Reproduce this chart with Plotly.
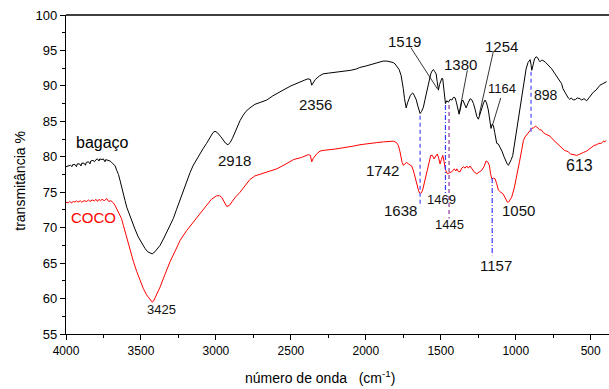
import plotly.graph_objects as go

# FTIR spectra: wavenumber (cm-1) and transmittance (%)
wn_bagaco = [4000, 3985, 3970, 3960, 3955, 3940, 3930, 3925, 3910, 3900, 3895, 3880, 3870, 3865, 3850,
             3840, 3835, 3820, 3810, 3800, 3790, 3780, 3775, 3760, 3751, 3740, 3735, 3720, 3706, 3695,
             3684, 3672, 3662, 3650, 3640, 3628, 3617, 3606, 3595, 3578, 3562, 3540, 3518, 3496, 3474,
             3455, 3440, 3425, 3407, 3390, 3373, 3350, 3328, 3306, 3284, 3262, 3240, 3218, 3195, 3172,
             3151, 3128, 3106, 3084, 3062, 3040, 3020, 3006, 2990, 2970, 2950, 2935, 2920, 2905, 2890,
             2870, 2855, 2839, 2820, 2800, 2773, 2740, 2700, 2661, 2620, 2590, 2552, 2500, 2460, 2439,
             2410, 2386, 2370, 2361, 2350, 2337, 2310, 2285, 2250, 2200, 2152, 2100, 2061, 2040, 2000,
             1952, 1920, 1885, 1860, 1840, 1818, 1805, 1790, 1778, 1765, 1758, 1750, 1742, 1735, 1731,
             1722, 1712, 1704, 1694, 1687, 1678, 1670, 1663, 1655, 1646, 1638, 1628, 1616, 1605, 1593,
             1580, 1567, 1558, 1549, 1540, 1531, 1524, 1516, 1508, 1500, 1492, 1487, 1480, 1474, 1469,
             1460, 1449, 1438, 1426, 1415, 1404, 1395, 1386, 1378, 1368, 1360, 1353, 1342, 1331, 1318,
             1304, 1292, 1282, 1270, 1260, 1249, 1238, 1227, 1215, 1205, 1195, 1183, 1175, 1165, 1157,
             1149, 1140, 1127, 1116, 1105, 1092, 1078, 1065, 1055, 1049, 1040, 1030, 1020, 1010, 1000,
             993, 975, 960, 945, 931, 918, 904, 898, 893, 885, 875, 865, 855, 845, 838,
             830, 820, 800, 783, 760, 738, 715, 694, 685, 672, 660, 650, 640, 630, 616,
             600, 590, 572, 560, 545, 527, 510, 495, 483, 465, 450, 438, 420, 405, 394]
t_bagaco = [78.6, 78.7, 78.8, 78.6, 78.9, 78.9, 78.6, 79.0, 79.0, 78.7, 79.1, 79.1, 78.8, 79.2, 79.3,
            79.0, 79.4, 79.5, 79.3, 79.6, 79.7, 79.4, 79.7, 79.6, 79.7, 79.3, 79.6, 79.5, 79.4, 79.2,
            79.0, 78.7, 78.1, 77.5, 76.7, 75.8, 74.8, 73.8, 72.9, 71.9, 71.0, 69.8, 68.7, 67.8, 67.1,
            66.6, 66.4, 66.3, 66.6, 67.0, 67.5, 68.4, 69.4, 70.3, 71.3, 72.6, 73.9, 75.3, 76.7, 77.8,
            78.8, 79.7, 80.5, 81.2, 81.9, 82.7, 83.4, 83.6, 83.4, 82.9, 82.3, 81.9, 81.7, 82.0, 82.6,
            83.6, 84.4, 85.1, 85.8, 86.4, 86.9, 87.4, 87.7, 88.0, 88.6, 89.0, 89.4, 90.0, 90.4, 90.6,
            90.8, 91.0, 90.9, 90.1, 90.5, 90.9, 91.4, 91.7, 91.8, 91.9, 92.0, 92.2, 92.4, 92.6, 92.8,
            93.1, 93.3, 93.5, 93.5, 93.4, 93.3, 93.1, 92.7, 92.3, 91.5, 90.8, 89.6, 88.2, 87.0, 86.9,
            87.6, 88.3, 88.6, 88.9, 89.0, 88.7, 88.3, 88.0, 87.3, 86.6, 86.1, 86.4, 87.0, 88.1, 89.4,
            90.6, 91.7, 92.1, 92.3, 92.0, 91.7, 90.6, 89.4, 90.2, 90.8, 91.1, 91.0, 89.5, 88.0, 87.5,
            87.9, 87.7, 88.1, 88.0, 88.4, 88.3, 87.6, 86.6, 86.0, 86.9, 87.8, 88.0, 87.4, 86.9, 87.6,
            88.2, 88.0, 87.5, 86.6, 85.7, 85.3, 86.0, 87.0, 87.6, 88.0, 87.6, 86.6, 85.3, 84.0, 84.6,
            84.4, 83.4, 81.9, 81.8, 81.4, 80.8, 80.0, 79.3, 78.9, 78.8, 79.1, 79.6, 80.2, 81.6, 83.2,
            84.2, 86.5, 88.4, 90.4, 92.4, 93.3, 93.7, 93.0, 92.2, 92.9, 93.8, 94.1, 94.0, 93.6, 93.4,
            93.6, 93.6, 93.3, 92.9, 92.4, 91.7, 91.0, 90.3, 89.6, 89.1, 88.6, 88.3, 88.1, 88.3, 88.0,
            88.1, 88.3, 88.2, 88.0, 88.2, 87.9, 88.4, 88.8, 89.1, 89.4, 89.8, 90.1, 90.3, 90.5, 90.6]

wn_coco = [4000, 3985, 3975, 3965, 3950, 3940, 3930, 3920, 3905, 3895, 3880, 3862, 3850, 3840, 3825,
           3810, 3800, 3790, 3780, 3770, 3760, 3745, 3728, 3715, 3700, 3690, 3684, 3672, 3660, 3644,
           3630, 3617, 3595, 3573, 3550, 3528, 3506, 3484, 3462, 3440, 3425, 3417, 3395, 3373, 3340,
           3306, 3272, 3239, 3195, 3151, 3106, 3062, 3030, 2995, 2975, 2962, 2945, 2928, 2912, 2895,
           2870, 2839, 2805, 2773, 2740, 2700, 2650, 2594, 2540, 2483, 2430, 2383, 2370, 2361, 2350,
           2328, 2306, 2284, 2200, 2128, 2084, 2039, 1980, 1927, 1883, 1845, 1816, 1795, 1783, 1773,
           1767, 1758, 1750, 1740, 1728, 1716, 1705, 1694, 1682, 1672, 1660, 1648, 1638, 1630, 1621,
           1608, 1594, 1580, 1567, 1556, 1545, 1534, 1523, 1514, 1505, 1496, 1487, 1478, 1468, 1456,
           1441, 1426, 1410, 1400, 1393, 1382, 1371, 1360, 1349, 1338, 1327, 1316, 1305, 1290, 1275,
           1260, 1244, 1227, 1212, 1198, 1188, 1176, 1168, 1160, 1150, 1138, 1127, 1116, 1100, 1086,
           1070, 1056, 1048, 1040, 1027, 1010, 993, 975, 960, 949, 938, 927, 915, 905, 893,
           880, 870, 860, 850, 840, 830, 816, 800, 785, 771, 760, 740, 720, 704, 690,
           675, 660, 650, 635, 620, 610, 594, 580, 565, 550, 527, 515, 504, 490, 478,
           460, 445, 430, 415, 405, 398]
t_coco = [73.6, 73.5, 73.7, 73.5, 73.7, 73.6, 73.8, 73.6, 73.8, 73.6, 73.8, 73.7, 73.9, 73.7, 73.9,
          73.8, 74.0, 73.7, 74.0, 73.8, 74.0, 73.8, 74.1, 73.7, 73.8, 73.6, 73.5, 73.1, 72.6, 72.1,
          71.3, 70.3, 68.6, 66.8, 65.2, 63.8, 62.5, 61.4, 60.5, 59.8, 59.5, 59.6, 60.5, 61.6, 63.4,
          65.2, 66.7, 68.2, 69.6, 70.8, 72.1, 73.2, 74.0, 74.5, 74.5, 74.3, 73.6, 73.0, 73.1, 73.6,
          74.3, 75.0, 75.9, 76.8, 77.3, 77.6, 77.9, 78.3, 78.9, 79.6, 79.9, 80.3, 80.2, 79.3, 79.8,
          80.4, 80.8, 80.9, 81.1, 81.3, 81.5, 81.7, 81.9, 82.0, 82.1, 82.2, 82.2, 82.0, 81.6, 80.8,
          80.0, 79.2, 78.8, 79.0, 79.2, 79.0, 78.9, 78.7, 78.0, 77.2, 76.1, 75.2, 74.8, 74.9, 75.3,
          76.4, 77.6, 79.0, 80.2, 80.2, 79.7, 80.1, 80.4, 79.8, 79.0, 79.6, 80.2, 79.3, 78.1, 77.6,
          77.8, 77.9, 78.3, 78.0, 78.3, 77.9, 77.9, 78.4, 78.6, 78.4, 78.7, 78.4, 78.7, 78.2, 77.8,
          77.6, 77.9, 78.1, 78.6, 79.4, 79.3, 78.8, 77.6, 76.9, 77.0, 76.9, 76.2, 75.3, 75.0, 74.8,
          74.2, 73.6, 73.6, 73.9, 74.3, 75.6, 77.2, 79.3, 81.0, 82.3, 82.8, 83.1, 83.5, 83.7, 84.0,
          84.1, 84.3, 84.2, 84.0, 83.8, 83.8, 83.4, 83.2, 83.0, 82.9, 82.6, 82.2, 81.8, 81.5, 81.2,
          80.9, 80.8, 80.7, 80.4, 80.3, 80.2, 80.2, 80.3, 80.5, 80.6, 80.8, 81.0, 81.2, 81.4, 81.6,
          81.7, 81.9, 81.9, 82.2, 82.1, 82.3]

# Band assignments: label text, label position, font size
peak_text = ["1519", "1380", "1254", "1164", "898", "613", "1742", "1638", "1469",
             "1445", "1050", "1157", "3425", "2918", "2356"]
peak_x = [1745, 1367, 1094, 1090, 798, 576, 1886, 1767, 1492, 1443, 983, 1131, 3366, 2877, 2336]
peak_y = [96.2, 93.0, 95.5, 89.6, 88.7, 78.8, 78.0, 72.4, 74.0, 70.4, 72.4, 64.7, 58.4, 79.5, 87.4]
peak_size = [15, 15, 15, 13, 14, 16, 15, 15, 13, 13, 15, 15, 13, 15, 15]

# Vertical guide lines linking bands of both spectra
guide_wn = [1638, 1469, 1445, 1157, 898]
guide_top = [85.8, 87.3, 87.3, 77.0, 92.0]
guide_bottom = [72.9, 74.8, 71.3, 66.1, 83.5]
guide_color = ["#4a4aff", "#3a3aff", "#8a3a9a", "#3a3aff", "#4a4aff"]
guide_dash = ["4px,3px", "5px,2px,1px,2px", "4px,3px", "5px,2px,1px,2px", "4px,3px"]

# Leader lines from labels to their bands
leader_x0 = [1700, 1323, 1149, 1100]
leader_y0 = [95.4, 92.2, 94.9, 88.3]
leader_x1 = [1523, 1376, 1244, 1156]
leader_y1 = [89.6, 86.3, 85.9, 84.4]

FONT = "Arial, 'Liberation Sans', sans-serif"

fig = go.Figure()
fig.add_trace(go.Scatter(x=wn_bagaco, y=t_bagaco, mode="lines",
                         line=dict(color="black", width=1), showlegend=False, hoverinfo="skip"))
fig.add_trace(go.Scatter(x=wn_coco, y=t_coco, mode="lines",
                         line=dict(color="#ff0000", width=1), showlegend=False, hoverinfo="skip"))

for w, a, b, c, d in zip(guide_wn, guide_top, guide_bottom, guide_color, guide_dash):
    fig.add_trace(go.Scatter(x=[w, w], y=[a, b], mode="lines",
                             line=dict(color=c, width=1.2, dash=d),
                             showlegend=False, hoverinfo="skip"))

for x0, y0, x1, y1 in zip(leader_x0, leader_y0, leader_x1, leader_y1):
    fig.add_trace(go.Scatter(x=[x0, x1], y=[y0, y1], mode="lines",
                             line=dict(color="black", width=0.8),
                             showlegend=False, hoverinfo="skip"))

annotations = []
for t, x, y, s in zip(peak_text, peak_x, peak_y, peak_size):
    annotations.append(dict(x=x, y=y, xref="x", yref="y", text=t, showarrow=False,
                            font=dict(family=FONT, size=s, color="#111111"),
                            xanchor="center", yanchor="middle"))

annotations.append(dict(x=3757, y=82.0, xref="x", yref="y", text="bagaço", showarrow=False,
                        font=dict(family=FONT, size=16, color="black"),
                        xanchor="center", yanchor="middle"))
annotations.append(dict(x=3817, y=71.4, xref="x", yref="y", text="COCO", showarrow=False,
                        font=dict(family=FONT, size=15, color="#ff0000"),
                        xanchor="center", yanchor="middle"))

# Axis titles
annotations.append(dict(x=0.468, y=-0.136, xref="paper", yref="paper",
                        text="número de onda   (cm<sup>-1</sup>)", showarrow=False,
                        font=dict(family=FONT, size=14, color="black"),
                        xanchor="center", yanchor="middle"))
annotations.append(dict(x=-0.085, y=0.48, xref="paper", yref="paper",
                        text="transmitância %", showarrow=False, textangle=-90,
                        font=dict(family=FONT, size=14, color="black"),
                        xanchor="center", yanchor="middle"))

fig.update_layout(
    width=609, height=389,
    margin=dict(l=66, r=0, t=15, b=55),
    paper_bgcolor="white", plot_bgcolor="white",
    font=dict(family=FONT, color="black"),
    annotations=annotations,
    shapes=[dict(type="line", xref="paper", yref="paper", x0=0, x1=1, y0=1, y1=1,
                 line=dict(color="black", width=1.3))],
)

fig.update_xaxes(range=[4000, 378], showgrid=False, zeroline=False,
                 showline=True, linecolor="black", linewidth=1.3,
                 tickmode="array", tickvals=[4000, 3500, 3000, 2500, 2000, 1500, 1000, 500],
                 ticks="outside", ticklen=5, tickwidth=1, tickcolor="black",
                 tickfont=dict(family=FONT, size=12, color="black"),
                 minor=dict(tickmode="array",
                            tickvals=[3750, 3250, 2750, 2250, 1750, 1250, 750],
                            ticks="outside", ticklen=3, tickwidth=1, tickcolor="black"))
fig.update_yaxes(range=[55, 100], showgrid=False, zeroline=False,
                 showline=True, linecolor="black", linewidth=1.3,
                 tickmode="linear", tick0=55, dtick=5,
                 ticks="outside", ticklen=5, tickwidth=1, tickcolor="black",
                 tickfont=dict(family=FONT, size=13, color="black"),
                 minor=dict(dtick=2.5, ticks="outside", ticklen=3, tickwidth=1, tickcolor="black"))

fig.write_html("out.html")
